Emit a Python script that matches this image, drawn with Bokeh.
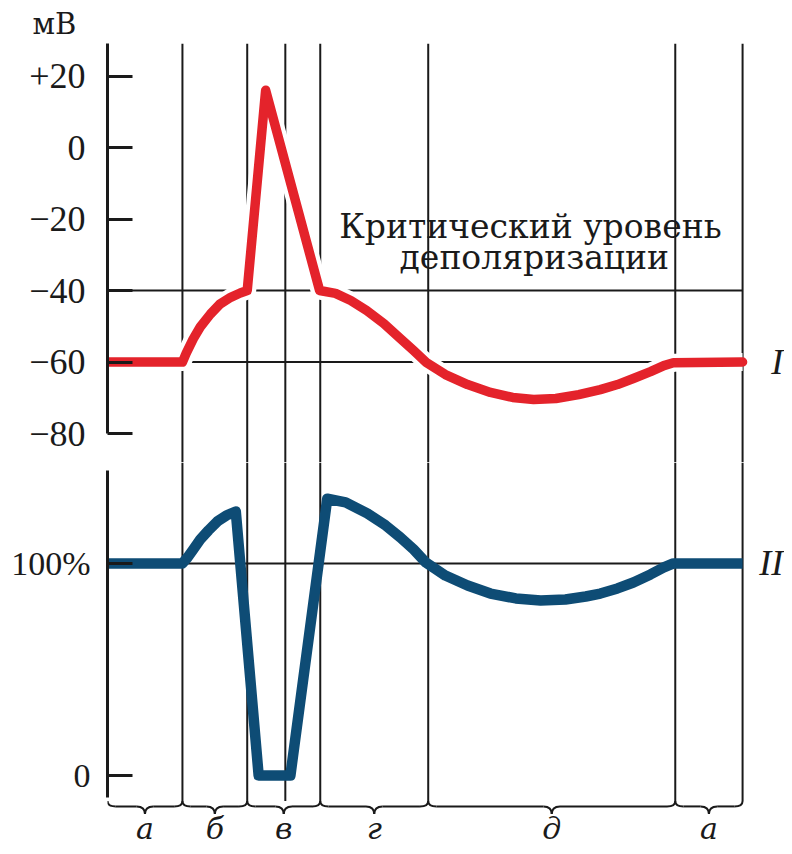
from bokeh.plotting import figure
from bokeh.layouts import column
from bokeh.models import FixedTicker, Label, Range1d
from bokeh.core.properties import value
from bokeh.embed import file_html
from bokeh.resources import INLINE

# ---------------- data ----------------
# time axis in arbitrary units (0 .. 100)
phase_bounds = [0, 11.8, 22.0, 33.5, 50.5, 89.4, 100]
phase_labels = ["а", "б", "в", "г", "д", "а"]
marker_lines = [11.8, 22.0, 28.0, 33.5, 50.5, 89.4, 100]

mv_ticks = [20, 0, -20, -40, -60, -80]
mv_tick_labels = ["+20", "0", "−20", "−40", "−60", "−80"]
mv_levels = [-40, -60]

pct_ticks = [0, 100]
pct_tick_labels = ["0", "100%"]
pct_levels = [100]

note_lines = ["Критический уровень", "деполяризации"]
note_x = [66.6, 67.2]
note_y = [-22.1, -30.8]

# I: membrane potential, mV
t_potential = [0, 11.8, 12.4, 13.5, 14.6, 16.2, 17.7, 19.4, 20.9, 22.0,
               24.9,
               33.4, 35.9, 38.3, 40.8, 43.5, 46.1, 48.2, 50.2, 53.2, 56.7,
               60.3, 63.8, 67.1, 70.6, 74.2, 77.6, 80.3, 82.8, 85.5, 87.6,
               89.1, 100]
potential = [-60, -60, -57.5, -53.5, -50.2, -46.6, -43.8, -41.9, -40.7, -40,
             16,
             -40, -40.8, -42.8, -45.6, -49.2, -53.4, -56.8, -60.1, -63.5, -66.3,
             -68.5, -69.9, -70.5, -70.2, -69.1, -67.7, -66.3, -64.6, -62.7, -61,
             -60.2, -60]

# II: excitability, %
t_excit = [0, 11.8, 12.6, 13.5, 14.6, 15.9, 17.3, 18.7, 20.2,
           23.8, 28.8,
           34.6, 37.5, 40.9, 43.8, 46.1, 48.2, 50.1, 53.2, 56.7, 60.3,
           64.3, 68.2, 72.1, 75.3, 77.6, 80.3, 82.8, 85.5, 87.6, 89.1, 100]
excit = [100, 100, 102.8, 106.6, 111.3, 115.6, 119.8, 122.6, 124.5,
         0, 0,
         130.5, 128.8, 123.6, 117.9, 112.3, 106.6, 100.5, 94.3, 89.6, 85.8,
         83.5, 82.5, 83, 84.4, 85.8, 88.2, 91, 94.8, 98.1, 100, 100]

# ---------------- styling ----------------
RED = "#e4232b"
BLUE = "#0e4c75"
INK = "#1a1a1a"
SERIF = "Liberation Serif"      # digits / latin
CYR = "DejaVu Serif"            # cyrillic text

W = 784
X_RANGE = (0, 106.6)


def style_axis(ax, ticks, labels, bounds, size, standoff):
    ax.ticker = FixedTicker(ticks=ticks)
    ax.major_label_overrides = {t: s for t, s in zip(ticks, labels)}
    ax.bounds = bounds
    ax.axis_line_width = 3
    ax.axis_line_color = INK
    ax.major_tick_in = 25
    ax.major_tick_out = 0
    ax.major_tick_line_width = 3
    ax.major_tick_line_color = INK
    ax.minor_tick_line_color = None
    ax.major_label_standoff = standoff
    ax.major_label_text_font = SERIF
    ax.major_label_text_font_size = size
    ax.major_label_text_color = INK


# ---------------- top panel (mV) ----------------
MV_TOP, MV_BOT = 29.1, -88.1
top = figure(width=W, height=462, output_backend="svg", toolbar_location=None,
             x_range=Range1d(*X_RANGE), y_range=Range1d(MV_BOT, MV_TOP),
             x_axis_location=None, min_border_left=107, min_border_right=0,
             min_border_top=43, min_border_bottom=0)
top.grid.visible = False
top.outline_line_color = None
style_axis(top.yaxis[0], mv_ticks, mv_tick_labels, (-80, MV_TOP), "36px", 22)

top.title.text = "мВ"
top.title.text_font = CYR
top.title.text_font_size = "29px"
top.title.text_font_style = "normal"
top.title.text_color = INK
top.title.align = "left"
top.title.offset = -75
top.title.standoff = 6

# vertical phase lines
top.segment(x0=marker_lines, x1=marker_lines,
            y0=[MV_TOP] * len(marker_lines), y1=[MV_BOT] * len(marker_lines),
            line_color=INK, line_width=2)
# horizontal levels
top.segment(x0=[0] * len(mv_levels), x1=[100] * len(mv_levels),
            y0=mv_levels, y1=mv_levels, line_color=INK, line_width=2)
# curve I with white halo
top.line(t_potential, potential, line_color="white", line_width=18,
         line_join="round")
top.line(t_potential, potential, line_color=RED, line_width=9.5,
         line_join="round", line_cap="round")

top.text(x=[106.4], y=[-60], text=["I"], text_font=value(SERIF),
         text_font_style="italic", text_font_size="36px",
         text_align="right", text_baseline="middle", text_color=INK)

# white boxes behind the note (hide the grid lines under the words)
for txt, tx, ty in zip(note_lines[::-1], note_x[::-1], note_y[::-1]):
    top.add_layout(Label(x=tx, y=ty, text=txt, text_font=CYR,
                         text_font_size="31px", text_align="center",
                         text_baseline="alphabetic", text_alpha=0.0,
                         background_fill_color="white"))
# the note itself
top.text(x=note_x, y=note_y, text=note_lines, text_font=value(CYR),
         text_font_size="33px", text_align="center",
         text_baseline="alphabetic", text_color=INK, level="overlay")

# ---------------- bottom panel (%) ----------------
Y_TOP, Y_BOT = 147.6, -33.5
bot = figure(width=W, height=384, output_backend="svg", toolbar_location=None,
             x_range=top.x_range, y_range=Range1d(Y_BOT, Y_TOP),
             x_axis_location=None, min_border_left=107, min_border_right=0,
             min_border_top=0, min_border_bottom=0)
bot.grid.visible = False
bot.outline_line_color = None
style_axis(bot.yaxis[0], pct_ticks, pct_tick_labels, (-10.4, 143.9), "34px", 17)

BR_TOP, BR_MID, BR_TIP = -12.0, -14.6, -18.2
bot.segment(x0=marker_lines, x1=marker_lines,
            y0=[Y_TOP] * len(marker_lines), y1=[BR_TOP] * len(marker_lines),
            line_color=INK, line_width=2)
bot.segment(x0=[0] * len(pct_levels), x1=[100] * len(pct_levels),
            y0=pct_levels, y1=pct_levels, line_color=INK, line_width=2)

bot.line(t_excit, excit, line_color=BLUE, line_width=10.5,
         line_join="round", line_cap="butt")

bot.text(x=[106.4], y=[100], text=["II"], text_font=value(SERIF),
         text_font_style="italic", text_font_size="36px",
         text_align="right", text_baseline="middle", text_color=INK)

# curly braces under each phase
r = 1.3
qx0, qy0, qx1, qy1, qcx, qcy = [], [], [], [], [], []
sx0, sx1, sy = [], [], []
centers = []
for a, b in zip(phase_bounds[:-1], phase_bounds[1:]):
    c = (a + b) / 2
    centers.append(c)
    qx0 += [a, b, c - r, c + r]
    qy0 += [BR_TOP, BR_TOP, BR_MID, BR_MID]
    qcx += [a, b, c, c]
    qcy += [BR_MID] * 4
    qx1 += [a + r, b - r, c, c]
    qy1 += [BR_MID, BR_MID, BR_TIP, BR_TIP]
    sx0 += [a + r, c + r]
    sx1 += [c - r, b - r]
    sy += [BR_MID, BR_MID]

bot.quadratic(x0=qx0, y0=qy0, x1=qx1, y1=qy1, cx=qcx, cy=qcy,
              line_color=INK, line_width=2)
bot.segment(x0=sx0, x1=sx1, y0=sy, y1=sy, line_color=INK, line_width=2)

bot.text(x=centers, y=[-25.0] * len(centers), text=phase_labels,
         text_font=value(CYR), text_font_style="italic",
         text_font_size="30px", text_align="center",
         text_baseline="alphabetic", text_color=INK)

layout = column(top, bot, spacing=0)
open("out.html", "w").write(file_html(layout, INLINE))
